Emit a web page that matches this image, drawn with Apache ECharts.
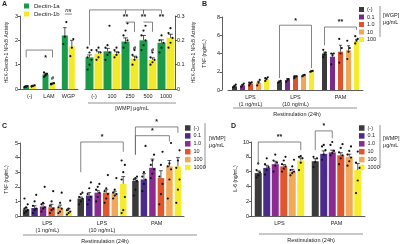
<!DOCTYPE html>
<html>
<head>
<meta charset="utf-8">
<script src="https://cdn.jsdelivr.net/npm/echarts@6/dist/echarts.min.js"></script>
<style>
  html, body { margin: 0; padding: 0; background: #fff; }
  #chart { width: 400px; height: 244px; }
</style>
</head>
<body>
<div id="chart"></div>
<script>
// ---- panel A : HEK-Dectin-1 reporter ----
const aCatsLeft = ['(-)', 'LAM', 'WGP'];
const aCatsRight = ['(-)', '100', '250', '500', '1000'];
const aLeft1a = [0.1, 0.6, 2.2];
const aLeft1b = [0.13, 0.22, 1.75];
const aLeftErr = [[0.02, 0.05, 0.32], [0.02, 0.02, 0.25]];
const aLeftDots = [
  [[0.07, 0.1, 0.12, 0.09, 0.11], [0.5, 0.58, 0.62, 0.68, 0.55], [1.85, 2.15, 2.75]],
  [[0.1, 0.13, 0.15, 0.12], [0.19, 0.22, 0.24, 0.21], [1.35, 1.7, 2.05]]
];
const aRight1a = [0.13, 0.155, 0.195, 0.2, 0.19];
const aRight1b = [0.145, 0.145, 0.125, 0.12, 0.21];
const aRightErr = [[0.01, 0.012, 0.015, 0.02, 0.012], [0.008, 0.008, 0.01, 0.008, 0.015]];
const aRightDots = [
  [[0.08, 0.1, 0.12, 0.13, 0.15, 0.16, 0.17], [0.12, 0.14, 0.15, 0.17, 0.18, 0.26], [0.17, 0.19, 0.2, 0.22, 0.24, 0.27], [0.16, 0.18, 0.2, 0.22, 0.24, 0.26], [0.15, 0.17, 0.19, 0.2, 0.22]],
  [[0.12, 0.13, 0.15, 0.16, 0.17], [0.13, 0.14, 0.15, 0.16, 0.17], [0.1, 0.12, 0.13, 0.14, 0.16], [0.1, 0.11, 0.12, 0.13, 0.15], [0.17, 0.19, 0.21, 0.23, 0.25]]
];

// ---- panel B : TNF, WGP pre-treatment ----
const bCats = ['LPS\n(1 ng/mL)', 'LPS\n(10 ng/mL)', 'PAM'];
const bDoses = ['(-)', '0.1', '1.0', '10', '100'];
const bMeans = [[0.4, 0.9, 4.0], [0.5, 1.1, 3.65], [0.7, 1.45, 4.2], [0.8, 1.6, 4.35], [1.2, 2.05, 5.35]];
const bErrs = [[0.1, 0.1, 0.15], [0.1, 0.15, 0.35], [0.12, 0.1, 0.7], [0.15, 0.05, 0.5], [0.1, 0.05, 0.2]];
const bDots = [
  [[0.3, 0.4, 0.6], [0.8, 0.9, 1.0], [3.6, 3.9, 4.1, 4.4]],
  [[0.35, 0.5, 0.7], [0.9, 1.1, 1.2], [2.8, 3.8, 4.0, 4.0]],
  [[0.5, 0.7, 0.85, 0.8], [1.3, 1.45, 1.5, 1.5], [3.0, 4.0, 4.6, 5.6]],
  [[0.5, 0.8, 1.1], [1.5, 1.6, 1.65], [3.4, 4.2, 4.6, 5.4]],
  [[1.0, 1.2, 1.4, 1.3], [2.0, 2.05, 2.1], [5.1, 5.4, 5.6, 5.9]]
];

// ---- panel C : TNF, WMP pre-treatment ----
const cCats = ['LPS\n(1 ng/mL)', 'LPS\n(10 ng/mL)', 'PAM'];
const wmpDoses = ['(-)', '0.1', '1.0', '10', '100', '1000'];
const cMeans = [[0.45, 1.2, 2.4], [0.55, 1.4, 2.5], [0.65, 1.6, 3.3], [0.6, 1.6, 2.6], [0.55, 1.55, 3.4], [0.35, 2.2, 3.4]];
const cErrs = [[0.1, 0.1, 0.15], [0.15, 0.2, 0.4], [0.2, 0.15, 0.6], [0.2, 0.2, 0.5], [0.2, 0.15, 0.4], [0.15, 0.5, 0.6]];
const cDots = [
  [[0.2, 0.3, 0.4, 0.5, 0.6, 0.8, 1.2], [0.8, 1.0, 1.2, 1.3, 1.5, 1.6], [1.4, 1.8, 2.4, 2.5, 2.6, 2.7]],
  [[0.2, 0.4, 0.5, 0.7, 1.0, 1.45], [0.8, 1.1, 1.3, 1.5, 1.9, 2.3], [1.7, 2.2, 2.5, 2.7, 3.0, 4.8]],
  [[0.3, 0.5, 0.6, 0.8, 0.9, 2.0], [1.0, 1.3, 1.6, 1.8, 2.0, 2.2], [2.6, 2.9, 3.2, 3.5, 3.8, 4.2]],
  [[0.2, 0.4, 0.5, 0.7, 1.0, 1.7], [0.9, 1.2, 1.5, 1.7, 1.9, 2.8], [0.8, 1.5, 2.2, 2.7, 3.5, 4.4]],
  [[0.2, 0.3, 0.5, 0.6, 0.9, 1.6], [1.2, 1.4, 1.5, 1.6, 1.8, 2.6], [1.2, 2.5, 3.2, 3.4, 3.6, 5.0]],
  [[0.1, 0.2, 0.3, 0.4, 0.5, 1.05], [0.2, 0.4, 1.3, 2.5, 3.0, 3.5, 3.8], [0.9, 1.8, 2.5, 3.3, 3.8, 4.5]]
];

// ---- panel D : IL-6, WMP pre-treatment ----
const dCats = ['LPS', 'PAM'];
const dMeans = [[5.8, 7.4], [6.5, 8.4], [7.0, 8.6], [6.7, 8.2], [6.0, 8.0], [7.5, 6.2]];
const dErrs = [[0.3, 0.35], [0.35, 0.4], [0.4, 0.3], [0.25, 0.35], [0.3, 0.35], [0.35, 0.9]];
const dDots = [
  [[5.2, 5.5, 5.9, 6.2, 7.1], [6.6, 7.3, 7.8, 8.0]],
  [[5.6, 6.2, 6.6, 7.0, 7.8], [7.6, 8.3, 8.9, 9.4, 9.6]],
  [[6.0, 6.8, 7.2, 7.5, 8.3], [8.2, 8.5, 8.8, 9.6, 10.0]],
  [[6.0, 6.4, 6.7, 7.0, 7.5, 8.0], [7.0, 7.8, 8.2, 8.6, 9.2, 9.7]],
  [[5.5, 5.8, 6.0, 6.2, 6.7, 7.6], [6.8, 7.4, 7.9, 8.3, 8.8, 9.4]],
  [[6.2, 7.2, 7.8, 8.0, 8.1], [3.1, 4.8, 6.5, 7.2, 8.7]]
];

const FONT = 'Liberation Sans';
const INK = '#222';
const dectinColors = ['#1b9a4b', '#f3e92b'];
const wgpColors = ['#3b3b3b', '#7a2a8c', '#e0522a', '#f2a654', '#f5ec2e'];
const wmpColors = ['#3b3b3b', '#4a2b8c', '#8b2b92', '#e3562b', '#f3a858', '#f5ec2e'];

const option = {
  animation: false,
  textStyle: { fontFamily: FONT },
  grid: [], xAxis: [], yAxis: [], series: [], legend: [], graphic: []
};

function addPanel(p) {
  const gi = option.grid.length;
  option.grid.push({ left: p.left, top: p.top, width: p.width, height: p.height });
  option.xAxis.push({
    type: 'category', gridIndex: gi, data: p.cats,
    axisTick: { show: false },
    axisLine: { lineStyle: { color: '#333', width: 0.8 } },
    axisLabel: { fontFamily: FONT, fontSize: 5.5, color: INK, interval: 0, margin: 4, lineHeight: 7 }
  });
  option.yAxis.push({
    type: 'value', gridIndex: gi, min: 0, max: p.max, interval: p.step,
    position: p.side || 'left', offset: p.offset || 0,
    splitLine: { show: false },
    axisLine: { show: true, lineStyle: { color: '#333', width: 0.8 } },
    axisTick: { show: true, length: 2, lineStyle: { color: '#333', width: 0.8 } },
    axisLabel: { fontFamily: FONT, fontSize: 5.5, color: INK, margin: 2 },
    name: p.yName, nameLocation: 'middle', nameGap: p.nameGap,
    nameTextStyle: { fontFamily: FONT, fontSize: 5, color: INK }
  });

  const n = p.names.length;
  const pitch = p.barWidth + p.gap;
  const xOf = (api, g, i) => api.coord([g, 0])[0] + (i - (n - 1) / 2) * pitch;
  const yOf = (api, g, v) => api.coord([g, v])[1];

  p.names.forEach((nm, i) => {
    option.series.push({
      type: 'bar', name: nm, xAxisIndex: gi, yAxisIndex: gi, data: p.means[i],
      barWidth: p.barWidth, barGap: (p.gap / p.barWidth * 100) + '%',
      itemStyle: { color: p.colors[i] }, silent: true
    });
  });

  // error bars (SEM)
  const errData = [];
  p.means.forEach((arr, i) => arr.forEach((m, g) => errData.push([g, i, m, p.errs[i][g]])));
  option.series.push({
    type: 'custom', xAxisIndex: gi, yAxisIndex: gi, data: errData, encode: { x: 0, y: 2 }, z: 3, silent: true,
    renderItem: (params, api) => {
      const g = api.value(0);
      const x = xOf(api, g, api.value(1));
      const y0 = yOf(api, g, api.value(2));
      const y1 = yOf(api, g, api.value(2) + api.value(3));
      const w = p.barWidth * 0.3;
      const st = { stroke: '#111', lineWidth: 0.7 };
      return { type: 'group', children: [
        { type: 'line', shape: { x1: x, y1: y0, x2: x, y2: y1 }, style: st },
        { type: 'line', shape: { x1: x - w, y1: y1, x2: x + w, y2: y1 }, style: st }
      ] };
    }
  });

  // individual points
  const dotData = [];
  p.dots.forEach((ser, i) => ser.forEach((vals, g) => vals.forEach((v, k) => dotData.push([g, i, v, k]))));
  option.series.push({
    type: 'custom', xAxisIndex: gi, yAxisIndex: gi, data: dotData, encode: { x: 0, y: 2 }, z: 4, silent: true,
    renderItem: (params, api) => {
      const g = api.value(0);
      const x = xOf(api, g, api.value(1)) + ((api.value(3) % 3) - 1) * p.barWidth * 0.25;
      return { type: 'circle', shape: { cx: x, cy: yOf(api, g, api.value(2)), r: 1.1 }, style: { fill: '#111' } };
    }
  });

  // significance brackets
  if (p.brackets) {
    option.series.push({
      type: 'custom', xAxisIndex: gi, yAxisIndex: gi, data: p.brackets, encode: { x: 0, y: 4 }, z: 5, silent: true, clip: false,
      renderItem: (params, api) => {
        const x1 = xOf(api, api.value(0), api.value(1));
        const x2 = xOf(api, api.value(2), api.value(3));
        const yt = yOf(api, 0, api.value(4));
        const yl = yOf(api, 0, api.value(5));
        const yr = yOf(api, 0, api.value(6));
        const label = p.bracketLabels[params.dataIndex];
        const kids = [{ type: 'polyline', shape: { points: [[x1, yl], [x1, yt], [x2, yt], [x2, yr]] },
          style: { stroke: '#666', lineWidth: 0.8, fill: null } }];
        if (label) {
          kids.push({ type: 'text', x: (x1 + x2) / 2, y: yt - 1,
            style: { text: label, fontFamily: FONT, fontSize: label === 'ns' ? 6 : 7, fontWeight: label === 'ns' ? 'normal' : 'bold',
              fontStyle: label === 'ns' ? 'italic' : 'normal', fill: '#111', align: 'center', verticalAlign: 'bottom' } });
        }
        return { type: 'group', children: kids };
      }
    });
  }

  // loose marks (*, #)
  if (p.marks) {
    option.series.push({
      type: 'custom', xAxisIndex: gi, yAxisIndex: gi, data: p.marks, encode: { x: 0, y: 2 }, z: 5, silent: true, clip: false,
      renderItem: (params, api) => {
        const g = api.value(0);
        const label = p.markLabels[params.dataIndex];
        return { type: 'text', x: xOf(api, g, api.value(1)), y: yOf(api, g, api.value(2)),
          style: { text: label, fontFamily: FONT, fontSize: label === '#' ? 5.5 : 7, fontWeight: 'bold', fill: '#111',
            align: 'center', verticalAlign: 'middle' } };
      }
    });
  }

  if (p.legend) {
    option.legend.push(Object.assign({
      orient: 'vertical', icon: 'rect', padding: 0, data: p.names,
      formatter: nm => nm.split('|')[1],
      textStyle: { fontFamily: FONT, fontSize: 5.5, color: INK, padding: [0, 0, 0, -2] },
      selectedMode: false
    }, p.legend));
  }
}

// A left
addPanel({
  left: 20, top: 16, width: 58, height: 73, max: 3, step: 1,
  cats: aCatsLeft, names: ['A|Dectin-1a', 'A|Dectin-1b'], colors: dectinColors,
  means: [aLeft1a, aLeft1b], errs: aLeftErr, dots: aLeftDots,
  barWidth: 6, gap: 1, yName: 'HEK-Dectin-1 NFκB Activity', nameGap: 11,
  brackets: [[0, 0, 1, 1, 1.6, 1.3, 1.3], [2, 0, 2, 1, 3.08, 3.08, 3.08]],
  bracketLabels: ['', 'ns'],
  marks: [[1, 0, 1.28], [1, 1, 0.42]], markLabels: ['*', '#'],
  legend: { left: 24, top: 3, itemWidth: 5, itemHeight: 5, itemGap: 2, textStyle: { fontFamily: FONT, fontSize: 6, color: INK } }
});
// A right
addPanel({
  left: 85, top: 16, width: 90, height: 73, max: 0.3, step: 0.1, side: 'right',
  cats: aCatsRight, names: ['A|Dectin-1a', 'A|Dectin-1b'], colors: dectinColors,
  means: [aRight1a, aRight1b], errs: aRightErr, dots: aRightDots,
  barWidth: 8, gap: 1, yName: 'HEK-Dectin-1 NFκB Activity', nameGap: 16,
  brackets: [[0, 0, 4, 0, 0.325, 0.18, 0.31], [2, 0, 2, 0, 0.325, 0.31, 0.31], [3, 0, 3, 0, 0.325, 0.31, 0.31],
             [2, 0, 2, 1, 0.275, 0.275, 0.235], [3, 0, 3, 1, 0.275, 0.275, 0.235]],
  bracketLabels: ['', '', '', '', ''],
  marks: [[2, 0, 0.295], [3, 0, 0.295], [4, 0, 0.295], [2, 1, 0.165], [3, 1, 0.16]],
  markLabels: ['**', '**', '**', '#', '#']
});
// B
addPanel({
  left: 228, top: 17, width: 135, height: 73, max: 8, step: 2, offset: 6,
  cats: bCats, names: bDoses.map(d => 'B|' + d), colors: wgpColors,
  means: bMeans, errs: bErrs, dots: bDots,
  barWidth: 5, gap: 3, yName: 'TNF (ng/mL)', nameGap: 15,
  brackets: [[1, 0, 1, 4, 7.1, 1.3, 2.4], [2, 0, 2, 4, 6.9, 4.9, 6.6]],
  bracketLabels: ['*', '**'],
  legend: { left: 359, top: 6.5, itemWidth: 5, itemHeight: 5, itemGap: 1.5 }
});
// C
addPanel({
  left: 20, top: 143, width: 164, height: 73, max: 5, step: 1,
  cats: cCats, names: wmpDoses.map(d => 'C|' + d), colors: wmpColors,
  means: cMeans, errs: cErrs, dots: cDots,
  barWidth: 6.5, gap: 2, yName: 'TNF (ng/mL)', nameGap: 11,
  brackets: [[1, 0, 1, 5, 5.07, 3.0, 4.4], [2, 0, 2, 5, 6.1, 4.2, 5.7], [2, 0, 2, 4, 5.5, 4.2, 5.1]],
  bracketLabels: ['*', '*', '*'],
  legend: { left: 185, top: 125, itemWidth: 5.5, itemHeight: 5.5, itemGap: 1.9 }
});
// D
addPanel({
  left: 251, top: 142, width: 114, height: 74, max: 10, step: 2,
  cats: dCats, names: wmpDoses.map(d => 'D|' + d), colors: wmpColors,
  means: dMeans, errs: dErrs, dots: dDots,
  barWidth: 7, gap: 1.5, yName: 'IL-6 (ng/mL)', nameGap: 13,
  brackets: [[0, 0, 0, 5, 10.0, 6.9, 8.9], [1, 0, 1, 2, 11.5, 8.9, 10.5]],
  bracketLabels: ['**', '*'],
  legend: { left: 359, top: 125, itemWidth: 5.5, itemHeight: 5.5, itemGap: 1.9 }
});

// panel letters, group captions and legend side notes
const txt = (x, y, text, extra) => ({ type: 'text', x: x, y: y,
  style: Object.assign({ text: text, fontFamily: FONT, fontSize: 5.5, fill: INK }, extra || {}) });
const ln = (x1, y1, x2, y2) => ({ type: 'line', shape: { x1: x1, y1: y1, x2: x2, y2: y2 }, style: { stroke: '#777', lineWidth: 0.8 } });

option.graphic = [
  txt(2, 1, 'A', { fontSize: 7, fontWeight: 'bold' }),
  txt(202, 1, 'B', { fontSize: 7, fontWeight: 'bold' }),
  txt(2, 123, 'C', { fontSize: 7, fontWeight: 'bold' }),
  txt(231, 123, 'D', { fontSize: 7, fontWeight: 'bold' }),
  ln(88, 103, 176, 103), txt(132, 105, '[WMP] μg/mL', { align: 'center' }),
  ln(233, 108, 357, 108), txt(297, 111, 'Restimulation (24h)', { align: 'center' }),
  ln(23, 235, 197, 235), txt(105, 238, 'Restimulation (24h)', { align: 'center' }),
  ln(259, 234, 363, 234), txt(311, 237, 'Restimulation (24h)', { align: 'center' }),
  ln(380, 6, 380, 37), txt(383, 12, '[WGP]'), txt(383, 19, 'μg/mL'),
  ln(205, 123, 205, 168), txt(209, 135, '[WMP]'), txt(209, 142, 'μg/mL'),
  ln(380, 125, 380, 168), txt(383, 135, '[WMP]'), txt(383, 142, 'μg/mL')
];

const chart = echarts.init(document.getElementById('chart'), null, { renderer: 'canvas' });
chart.setOption(option);
</script>
</body>
</html>
